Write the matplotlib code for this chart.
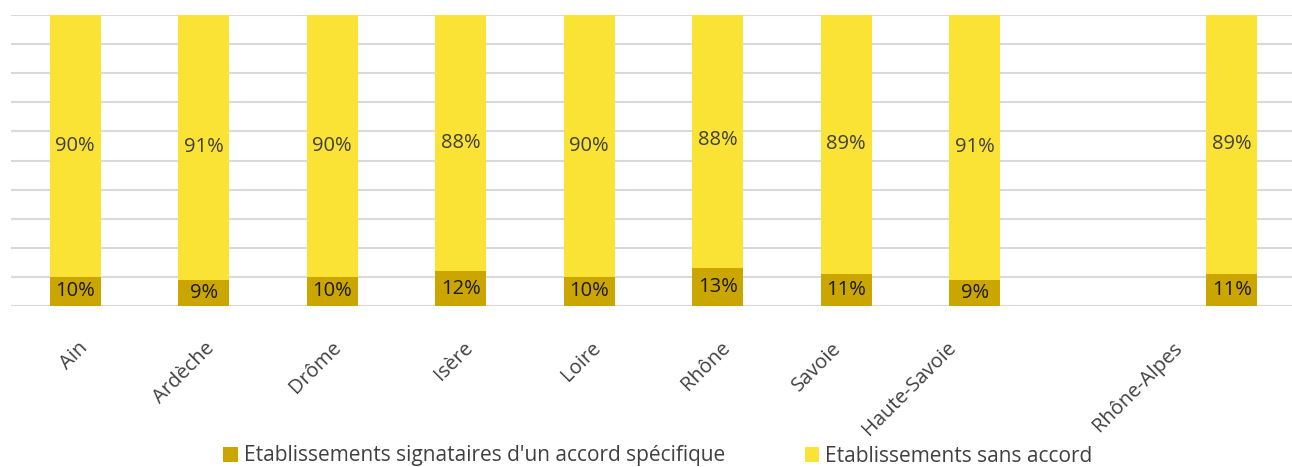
import matplotlib
matplotlib.use("Agg")
import matplotlib.pyplot as plt
from matplotlib.patches import Patch
from matplotlib.transforms import ScaledTranslation

categories = ["Ain", "Ardèche", "Drôme", "Isère", "Loire", "Rhône", "Savoie", "Haute-Savoie", "", "Rhône-Alpes"]
signataires = [10, 9, 10, 12, 10, 13, 11, 9, None, 11]
sans_accord = [90, 91, 90, 88, 90, 88, 89, 91, None, 89]
series_names = ["Etablissements signataires d'un accord spécifique", "Etablissements sans accord"]

# horizontal shift of each rotated tick label (pixels), as in the reference
label_dx = [3, 1, -1, 2, 2, 2, -15, -29, 0, -59]

c_dark = "#CCA600"
c_yellow = "#FBE335"
txt = "#404040"

plt.rcParams['font.family'] = ['Open Sans', 'DejaVu Sans']

W, H = 1292, 467
fig = plt.figure(figsize=(W / 100, H / 100), dpi=100)
x0, x1 = 11, 1292
y0, y1 = 306, 15
ax = fig.add_axes([x0 / W, 1 - y0 / H, (x1 - x0) / W, (y0 - y1) / H])

slot = (1296 - 11) / 10
ax.set_xlim(-0.5, -0.5 + (x1 - x0) / slot)
ax.set_ylim(0, 100)

for i, (a, b) in enumerate(zip(signataires, sans_accord)):
    if a is None:
        continue
    ax.bar(i, a, width=0.40, color=c_dark, zorder=3)
    ax.bar(i, b, bottom=a, width=0.40, color=c_yellow, zorder=3)
    ax.text(i, a / 2, f"{a}%", ha="center", va="center", fontsize=14.5, color="#1a1a1a", zorder=4)
    ax.text(i, a + b / 2, f"{b}%", ha="center", va="center", fontsize=14.5, color=txt, zorder=4)

ax.set_yticks(range(0, 101, 10))
ax.yaxis.grid(True, color="#D9D9D9", linewidth=1.5, zorder=0)
ax.tick_params(axis="y", left=False, labelleft=False)
ax.tick_params(axis="x", length=0, pad=23)
for s in ax.spines.values():
    s.set_visible(False)

ax.set_xticks(range(len(categories)))
labels = ax.set_xticklabels(categories, rotation=45, ha="right", rotation_mode="anchor",
                            fontsize=14.5, color=txt)
for lab, dx in zip(labels, label_dx):
    lab.set_transform(lab.get_transform() + ScaledTranslation(dx / 100, 0, fig.dpi_scale_trans))

handles = [Patch(facecolor=c_dark, edgecolor="none"), Patch(facecolor=c_yellow, edgecolor="none")]
fig.legend(handles, series_names, loc="center", bbox_to_anchor=(658 / W, 1 - 456 / H),
           ncol=2, frameon=False, fontsize=15, labelcolor=txt,
           handlelength=0.7, handleheight=0.7, handletextpad=0.3, columnspacing=3.8)

fig.savefig("out.png", dpi=100)
